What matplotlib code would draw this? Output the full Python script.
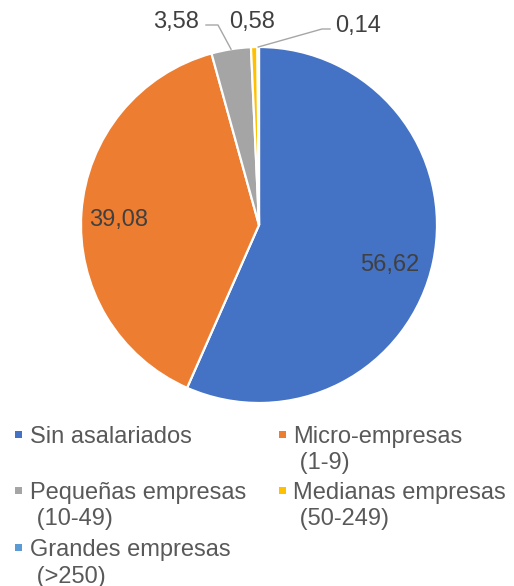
import matplotlib
matplotlib.use("Agg")
import matplotlib.pyplot as plt
import numpy as np
from matplotlib.patches import Rectangle

plt.rcParams['font.family'] = ['Liberation Sans', 'DejaVu Sans']

categorias = ["Sin asalariados", "Micro-empresas\n(1-9)", "Pequeñas empresas\n(10-49)",
              "Medianas empresas\n(50-249)", "Grandes empresas\n(>250)"]
valores = [56.62, 39.08, 3.58, 0.58, 0.14]
colores = ["#4472C4", "#ED7D31", "#A5A5A5", "#FFC000", "#5B9BD5"]

W, H = 514, 586
fig = plt.figure(figsize=(W / 100, H / 100), dpi=100)

# pie centre (259,225) px, radius 178 px
cx, cy, r = 259, 225, 178
ax = fig.add_axes([(cx - r) / W, 1 - (cy + r) / H, 2 * r / W, 2 * r / H])
wedges, _ = ax.pie(valores, colors=colores, startangle=90, counterclock=False,
                   wedgeprops=dict(edgecolor="white", linewidth=1.6))
ax.set_xlim(-1, 1)
ax.set_ylim(-1, 1)
ax.set_aspect("equal")

def fmt(v):
    return f"{v:.2f}".replace(".", ",")

def px(x, y):
    # pixel position -> pie data coordinates
    return (x - cx) / r, (cy - y) / r

txt_col = "#404040"
fs = 17

# label positions in pixels (centre x, baseline y) and leader elbow x (or None)
etiquetas = [((390, 271), None), ((119, 226), None), ((176, 28), (206, 218)),
             ((252, 28), None), ((358, 32), (330, 322))]
lider_y = {2: 25, 4: 29}
for i, ((x, y), lider) in enumerate(etiquetas):
    tx, ty = px(x, y)
    ax.text(tx, ty, fmt(valores[i]), ha="center", va="baseline",
            fontsize=fs, color=txt_col)
    if lider is not None:
        w = wedges[i]
        a = np.deg2rad((w.theta1 + w.theta2) / 2)
        x0, ly = px(lider[0], lider_y[i])
        x1, _ = px(lider[1], lider_y[i])
        ax.plot([x0, x1, np.cos(a)], [ly, ly, np.sin(a)], color="#A6A6A6",
                lw=1.0, clip_on=False)

# legend, drawn row by row in 2 columns
leg_col = "#595959"
col_x = [(15, 30), (279, 293)]
fila_base = [443, 499, 556]
line_h = 26.5
for idx, (cat, c) in enumerate(zip(categorias, colores)):
    row, col = divmod(idx, 2)
    mx, tx = col_x[col]
    base = fila_base[row]
    fig.patches.append(Rectangle((mx / W, 1 - (base - 5) / H), 7 / W, 7 / H,
                                 transform=fig.transFigure, facecolor=c,
                                 edgecolor="none"))
    for k, linea in enumerate(cat.split("\n")):
        t = linea if k == 0 else " " + linea
        fig.text(tx / W, 1 - (base + k * line_h) / H, t, ha="left", va="baseline",
                 fontsize=fs, color=leg_col)

fig.savefig("out.png", dpi=100)
